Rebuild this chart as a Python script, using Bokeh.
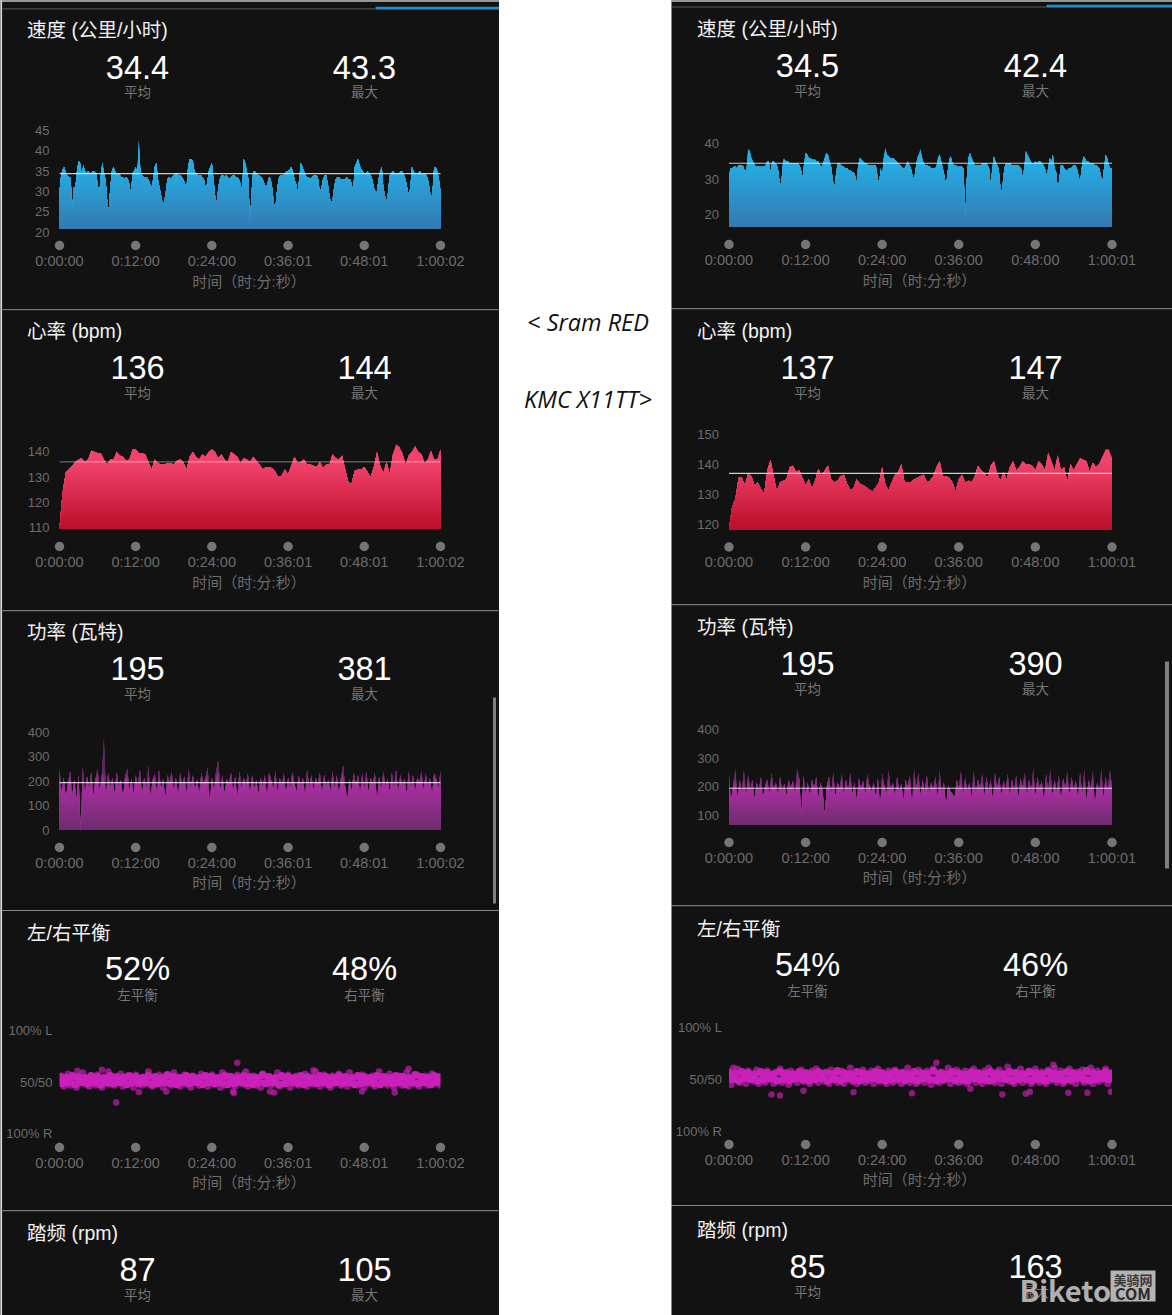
from bokeh.plotting import figure
from bokeh.layouts import row, column
from bokeh.models import Label, LinearAxis, FixedTicker, Range1d
from bokeh.embed import file_html
from bokeh.resources import INLINE
import numpy as np

# ---------- data ----------
speed_l = [30,34,35.5,36,34.5,34,33.5,33.5,25.5,31,31,35,37.5,37,34,36.5,35,34.5,35,34.5,
 34.5,35,35,34.5,32,29,34,37,34.5,33,28,25,31,35,36,35,34,34.5,34,33.5,
 33.5,33,33.5,33,32,29,34.5,35,36,34.5,43,35,34,33.5,33.5,33.5,33,32,31,33,
 36,37,33,31,29,27,27.5,30,33,33.5,33,33.5,34,34.5,34.5,34,34,33.5,33,32,
 31,36,38,38,37.5,35,34.5,34,34,34,33.5,33,31,32,35,36,37,33,29,27,
 31,33,34,34,33.5,34,33.5,33,33.5,34,34,33.5,33.5,33,32,30,38,37,35,33,
 21.5,30,35,35,34.5,34,34,33.5,33,32,31,32,33.5,33,31,27,26,30,33,34,
 34,34,34.5,35,35,35.5,36,35,33,32,30,33,37,36,35,34,33.5,33.5,33,33.5,
 34,34,34,33,29.5,31,33,34,34,32,29,27,28,31,33,33.5,33.5,33,33,33,
 33,33.5,33,33,32,30,36,37,38,36.5,35.5,35,34.5,34.5,35,34.5,34,33,31,30,
 30,33,35,36,31,29,27.5,30,34,34.5,35,34.5,34.5,34.5,34.5,35,35,34,33,31,
 29,31,36,35,34.5,34,34.5,35,34.5,34,34.5,34,33,31,28,30,36,36,35,33,30]
speed_r = [31,33,33,33.5,33.5,33,34,34,34,33.5,32,33,38.5,38,36,35,34,33.5,33.5,33.5,
 33.5,33.5,33.5,34,35,35,32,35,35,34.5,34,32,27.5,30,35.5,35.5,35,35,34.5,34.5,
 34.5,34.5,34.5,34.5,34,33,30,34,37.5,37,36,36,35.5,35.5,35.5,35,35,34,33.5,34.5,
 36,37.5,37,35,33.5,30,27,31,34.5,34.5,34,33.5,33.5,33,33,32.5,32.5,32,32,31,
 29,34,36,35.5,35,34.5,34.5,34,34,34,34,34,34,31,28,33,31,36,39,37,
 36.5,36,36,36,35.5,35,34.5,34,33.5,33,33,34,35,34,33,31,30,33,36,37,
 38.5,36,34.5,34,34,33.5,33.5,33,33,33,33.5,36,37,35,33,31,28,32,35.5,36.5,
 34.5,34,34,33.5,33.5,33.5,33.5,33,17.5,30,36,37.5,36,35,34,34,34,34,34,34.5,
 34.5,34.5,34,33,28,33,36.5,35,34,33,28,26,31,34,34.5,34.5,34.5,34,34,34,
 34,34,33.5,33,30.5,33,38,37,36,35,34.5,34.5,35,34.5,35,35,34.5,34,33,31,
 33,36,35,37,33,32,27,30,34,34,33,32.5,32.5,33,33,33.5,34,34,33,31,
 29,33,36.5,36,35,35,34.5,34.5,34.5,34,34,33.5,33,31,29,33,37,36,34,33,33]
hr_l = [110,124,132,133,134.5,136,137,137.5,136,137,140.5,140,139.5,139.5,137,135,137,137,140,138.5,
 138,136.5,137,141,141,139.5,139.5,139,136,133,137,135.5,135,135,135.5,135.5,135,136.5,137,136,
 133,138,140,138,137,139,138,140,141,140,137.5,139,137,136,140,139,138,135.5,137.5,137,
 136,138,136.5,135,133,134,134,133.5,132,130,130.5,133,131,134.5,138,135.5,136,137,135,135,
 134.5,134,136,133.5,135,135,139,137.5,137,138.5,133,128,127.5,132.5,133,133,134,132,130,134,
 140,134.5,131.5,136,131,139,143,142,139.5,135,138.5,140,142.5,140,139,135.5,137,140.5,137,137,141]
hr_r = [118.5,126,128.5,135.5,135.5,133,137,136,133,134,132,130,138,141.5,136,131,134,134.5,135,139,
 139.5,137.5,138,135.5,133,135,132,134.5,138.5,136,138,139.5,135,134,134.5,136,136.5,133.5,131.5,132,
 135,133.5,133,132.5,131.5,131,132.5,134,139,133,131.5,134,136.5,137.5,140,134,134,134,135,135.5,
 136,136.5,134,134.5,136,139,141,136,136,135.5,134,131,135,136.5,134,134.5,134,136,139.5,138,
 137,135.5,139.5,141,137,134.5,137.5,135,139,141,138,139,141,140,140,139.5,138,141,140,138,
 144,141,138,143,138,139,134,140,138,140,142,141.5,141,137.5,140.5,139,140,142.5,145,145,142]
power_l = [250,150,215,130,190,240,140,205,120,225,0,255,150,220,170,240,135,210,250,160,
 225,381,150,235,175,215,145,240,180,205,130,220,250,165,210,140,225,185,245,150,
 215,170,262,135,205,230,155,245,170,210,125,225,195,240,160,215,140,235,185,220,
 150,250,175,225,165,210,145,235,190,215,255,110,215,160,240,285,165,225,145,210,
 190,235,160,220,130,240,175,215,185,230,150,225,170,205,145,215,180,225,135,235,
 205,165,240,155,215,185,230,150,215,170,240,190,155,225,180,215,140,245,175,225,
 165,215,190,235,150,225,180,205,155,240,170,225,145,215,265,175,120,210,160,235,
 185,225,150,230,170,240,155,215,190,235,115,220,165,240,180,210,155,235,175,245,
 160,225,185,210,150,240,175,225,155,215,195,240,165,230,180,215,145,235,210,170,240]
power_r = [240,150,210,265,160,225,180,260,170,240,190,225,155,215,185,235,160,205,225,175,
 250,190,215,170,235,185,210,165,225,195,220,175,265,230,100,240,175,215,165,225,
 195,235,160,215,185,90,205,235,175,250,165,215,195,245,170,225,185,250,175,215,
 150,230,195,220,170,245,205,185,215,160,230,130,245,205,175,260,190,215,165,235,
 185,210,150,225,200,240,135,265,195,250,170,225,185,240,175,215,190,235,165,255,
 180,215,125,205,185,175,160,225,195,255,170,230,185,215,160,255,180,225,195,245,
 165,235,185,225,150,250,195,235,170,220,190,245,165,225,185,240,160,230,200,250,
 170,225,185,270,165,235,195,220,145,245,190,260,170,225,185,240,150,230,195,255,
 170,235,190,220,160,250,175,265,150,225,195,255,130,215,185,265,160,235,190,260,205]
balance_l = [49,56,46,53,58,47,52,55,45,54,50,59,48,53,46,56,51,47,57,52,
 45,54,49,60,48,55,47,53,50,58,46,52,56,48,54,45,57,50,53,47,
 55,49,60,52,46,54,48,57,51,45,56,49,53,47,59,50,55,46,52,57,
 48,54,45,56,50,53,47,58,49,55,46,52,57,48,54,50,45,59,47,53,
 56,49,52,46,57,51,54,48,60,46,53,50,56,47,54,45,58,49,52,55,
 47,53,50,59,46,55,48,52,57,45,54,49,56,47,53,51,58,46,52,55,
 48,60,50,46,54,57,48,52,45,56,49,53,58,47,54,50,46,59,52,48,
 55,47,53,57,45,51,54,49,56,46,53,60,48,52,55,47,58,50,45,54,
 49,56,47,53,59,46,52,55,48,57,46,54,50,56,47,53,58,49,52,55,47]
balance_r = [57,45,61,50,60,47,55,52,46,58,50,54,48,59,46,56,52,47,58,50,
 54,46,57,49,60,47,55,52,45,58,50,55,47,54,59,48,52,56,46,58,
 50,60,47,55,52,48,57,46,59,50,55,47,53,58,46,56,50,61,48,54,
 46,57,51,59,47,55,49,58,46,53,60,48,55,50,46,58,52,47,59,49,
 55,46,57,50,61,47,54,52,46,59,49,56,47,58,51,45,60,50,55,47,
 57,49,53,61,46,56,50,59,47,54,48,58,46,55,52,60,47,56,49,46,
 58,51,61,48,55,47,53,59,46,56,50,62,48,54,46,57,52,60,47,55,
 49,58,46,54,60,50,47,57,52,46,59,49,55,61,47,53,58,46,56,50,
 60,48,54,46,57,51,59,47,55,49,61,46,53,58,48,56,50,60,46,54,52]
core_l = [55,49,54,50,56,48,55,50,54,49,56,50,55,48,54,50,56,49,55,50,
 54,48,56,50,55,49,54,50,56,48,55,49,54,50,57,49,55,48,54,50,
 56,49,55,50,54,48,56,50,55,49,54,50,56,48,55,49,54,50,56,49,
 55,48,54,50,57,49,55,50,54,48,56,49,55,50,54,49,56,48,55,50,
 54,49,56,50,55,48,54,50,56,49,55,50,54,48,56,49,55,50,54,49,
 56,48,55,50,54,49,56,50,55,48,54,50,57,49,55,50,54,48,56,50,55]
core_r = [56,50,55,49,57,51,56,50,55,49,57,50,56,51,55,49,57,50,56,49,
 55,51,57,50,56,49,55,50,57,51,56,49,55,50,58,49,56,51,55,50,
 57,49,56,50,55,51,57,50,56,49,55,50,57,51,56,49,55,50,57,49,
 56,51,55,50,58,49,56,50,55,51,57,49,56,50,55,49,57,51,56,50,
 55,49,57,50,56,51,55,50,57,49,56,50,55,51,57,49,56,50,55,49,
 57,51,56,50,55,49,57,50,56,51,55,50,58,49,56,50,55,51,57,50,56]
out_l_t = [536, 1680, 1640, 2400, 3300, 170, 750, 1010, 1650, 2030, 2860, 3170, 400, 1990]
out_l_v = [30.3, 68.7, 41, 61.5, 63, 61, 40.5, 41, 39.5, 40, 41, 40, 62, 41]
out_r_t = [400, 480, 700, 1720, 2270, 2570, 2790, 2830, 3190, 3370, 1170, 1950, 3050, 3590]
out_r_v = [35.5, 34.5, 39, 36.5, 41, 35.5, 36, 38, 37, 37, 37.5, 66, 64, 38]

title_names = ["速度 (公里/小时)", "心率 (bpm)", "功率 (瓦特)", "左/右平衡", "踏频 (rpm)"]
stats_l = [("34.4", "43.3"), ("136", "144"), ("195", "381"), ("52%", "48%"), ("87", "105")]
stats_r = [("34.5", "42.4"), ("137", "147"), ("195", "390"), ("54%", "46%"), ("85", "163")]
sub_labels = [("平均", "最大"), ("平均", "最大"), ("平均", "最大"), ("左平衡", "右平衡"), ("平均", "最大")]
ticks_l = ["0:00:00", "0:12:00", "0:24:00", "0:36:01", "0:48:01", "1:00:02"]
ticks_r = ["0:00:00", "0:12:00", "0:24:00", "0:36:00", "0:48:00", "1:00:01"]
axis_title = "时间（时:分:秒）"

BG = "#121213"
FONT = "Liberation Sans, Noto Sans CJK SC"
GRAY = "#6c6c6c"
BLUE = ("#25ADE3", "#3578B1")
RED = ("#F2436C", "#B90E29")
PURPLE = ("#A92FA2", "#6E2C6C")


def mix(top, bot, f):
    a = [int(top[i:i + 2], 16) for i in (1, 3, 5)]
    b = [int(bot[i:i + 2], 16) for i in (1, 3, 5)]
    return "#%02x%02x%02x" % tuple(int(round(b[i] + (a[i] - b[i]) * f)) for i in range(3))


def panel(col, top, H, T, ticks, tick_labels, anchors, base, names, vals, subs, ypos, sep=True):
    """col: (page x of panel, width, chart x0, chart x1). anchors: (v0,py0,v1,py1)."""
    ox, W, cx0, cx1 = col
    v0, p0, v1, p1 = anchors
    k = (v1 - v0) / (p0 - p1)
    Y = lambda py: v0 + (p0 - py) * k
    s = T / (cx1 - cx0)
    X = lambda px: (px - cx0) * s
    p = figure(width=W, height=H, output_backend="svg", toolbar_location=None,
               x_range=Range1d(X(ox), X(ox + W)), y_range=Range1d(Y(top + H), Y(top)),
               x_axis_type=None, y_axis_type=None, min_border=0,
               background_fill_color=BG, border_fill_color=BG, outline_line_color=None)
    p.grid.visible = False
    p.margin = 0

    def txt(px, py, t, size, color, align="center", style="normal"):
        p.add_layout(Label(x=X(px), y=Y(py), text=t, text_font=FONT, text_font_size=f"{size}px",
                           text_color=color, text_align=align, text_baseline="middle",
                           text_font_style=style))

    ty, by, sy, dy, ly, ay = ypos
    txt(ox + 26.5 if ox == 0 else ox + 25.5, ty - 0.5, names, 19.5, "#f1f1f1", "left")
    for cx, big, small in zip(col_stats(ox), vals, subs):
        txt(cx, by - 1, big, 32.5, "#ffffff")
        txt(cx, sy, small, 13.5, "#777777")
    if sep:
        p.line([X(ox), X(ox + W)], [Y(top + 0.5)] * 2, line_color="#3c3c3c", line_width=1)
    if ticks is not None:
        xa = LinearAxis(ticker=FixedTicker(ticks=ticks), fixed_location=Y(dy),
                        major_label_overrides={t: l for t, l in zip(ticks, tick_labels)},
                        axis_line_color=None, major_tick_line_color=None, minor_tick_line_color=None,
                        major_label_standoff=1, major_label_text_color=GRAY,
                        major_label_text_font=FONT, major_label_text_font_size="14.5px")
        p.add_layout(xa, "below")
        p.scatter(ticks, [Y(dy)] * len(ticks), size=9.5, fill_color="#757575", line_color=None)
        txt((cx0 + cx1) / 2 - 1, ay, axis_title, 15, GRAY)
    p._X, p._Y = X, Y
    return p


def col_stats(ox):
    return (137, 364) if ox == 0 else (807, 1035)


def area(p, T, vals, base, mean, colors, top_level, mean_alpha=0.85, fade=None, fade_span=60):
    vals = np.array(vals, dtype=float)
    x = np.linspace(0, T, len(vals))
    hi_all = vals.max()
    N = 36
    levels = np.linspace(hi_all, base, N, endpoint=False)
    for lev in levels:
        f = min(1.0, (lev - base) / (top_level - base))
        colr = mix(colors[0], colors[1], f)
        if fade and lev > top_level:
            colr = mix(fade, colors[0], min(1.0, (lev - top_level) / fade_span))
        p.varea(x, np.full(len(x), base), np.minimum(vals, lev), fill_color=colr)
    p.line([0, T], [mean, mean], line_color="#f0f0f0", line_width=1.2, line_alpha=mean_alpha)


def yaxis(p, ticks, overrides=None, standoff=4):
    ya = LinearAxis(ticker=FixedTicker(ticks=ticks), fixed_location=0,
                    axis_line_color=None, major_tick_line_color=None, minor_tick_line_color=None,
                    major_label_standoff=standoff, major_label_text_color=GRAY,
                    major_label_text_font=FONT, major_label_text_font_size="13px",
                    major_label_text_align="right", major_label_text_baseline="middle")
    if overrides:
        ya.major_label_overrides = overrides
    p.add_layout(ya, "left")


def balance(p, T, vals, core, ot, ov):
    p.scatter(ot, ov, size=6.5, fill_color="#C91FB9", fill_alpha=0.65, line_color=None)
    p.scatter(np.linspace(0, T, len(vals)), vals, size=7, fill_color="#C91FB9", fill_alpha=0.68, line_color=None)
    p.scatter(np.linspace(0, T, len(core)), core, size=8, fill_color="#CC21BC", fill_alpha=0.95, line_color=None)
    # the chart's ends are cut straight
    w = T * 8 / 381
    p.quad(left=[-w, T], right=[0, T + w], bottom=[20, 20], top=[80, 80], fill_color=BG, line_color=None)


LC = (0, 499, 59, 440)
RC = (671, 501, 728.5, 1111.5)
TL = 3602
TR = 3601
tl = [0, 720, 1440, 2161, 2881, 3602]
tr = [0, 720, 1440, 2160, 2880, 3601]
bal_over = {0: "100% R", 50: "50/50", 100: "100% L"}

# left column
l1 = panel(LC, 0, 309, TL, tl, ticks_l, (45, 130, 20, 231.7), 20.9, title_names[0], stats_l[0], sub_labels[0], (30, 68, 92, 245, 261, 281))
area(l1, TL, speed_l, 20.9, 34.4, BLUE, 36)
yaxis(l1, [20, 25, 30, 35, 40, 45])
l2 = panel(LC, 309, 301, TL, tl, ticks_l, (140, 451.3, 110, 527.3), 109.6, title_names[1], stats_l[1], sub_labels[1], (331, 368, 393, 546, 562, 581.5))
area(l2, TL, hr_l, 109.6, 136, RED, 136, 0.4)
yaxis(l2, [110, 120, 130, 140])
l3 = panel(LC, 610, 300, TL, tl, ticks_l, (400, 731.7, 0, 830), 4, title_names[2], stats_l[2], sub_labels[2], (632, 669, 694, 847, 863, 882))
area(l3, TL, power_l, 4, 195, PURPLE, 195, fade="#5E2A5C")
yaxis(l3, [0, 100, 200, 300, 400])
l4 = panel(LC, 910, 300, TL, tl, ticks_l, (100, 1030, 0, 1133.3), 0, title_names[3], stats_l[3], sub_labels[3], (933, 969, 995, 1147, 1163, 1182), sep=False)
balance(l4, TL, balance_l, core_l, out_l_t, out_l_v)
yaxis(l4, [0, 50, 100], bal_over, 1)
l5 = panel(LC, 1210, 105, TL, None, None, (100, 1210, 0, 1315), 0, title_names[4], stats_l[4], sub_labels[4], (1233, 1270, 1295, 0, 0, 0))

for p_, top_, H_ in ((l1, 0, 309), (l2, 309, 301), (l3, 610, 300), (l4, 910, 300), (l5, 1210, 105)):
    X_, Y_ = p_._X, p_._Y
    p_.quad(left=X_(0), right=X_(1.6), bottom=Y_(top_ + H_), top=Y_(top_), fill_color="#d8d8d8", line_color=None)
l1.quad(left=l1._X(0), right=l1._X(499), bottom=l1._Y(1), top=l1._Y(0), fill_color="#ffffff", line_color=None)
l1.line([l1._X(2), l1._X(375)], [l1._Y(8.4)] * 2, line_color="#5a5a5a", line_width=1)
l1.quad(left=l1._X(375), right=l1._X(499), bottom=l1._Y(9), top=l1._Y(6.3), fill_color="#1C8FCF", line_color=None)
l3.quad(left=l3._X(492.5), right=l3._X(495.5), bottom=l3._Y(903), top=l3._Y(697), fill_color="#808080", line_color=None)

# right column
r1 = panel(RC, 0, 308, TR, tr, ticks_r, (40, 143.3, 20, 214), 16.5, title_names[0], stats_r[0], sub_labels[0], (28.5, 65.5, 90.5, 244, 260.5, 280))
area(r1, TR, speed_r, 16.5, 34.5, BLUE, 35)
yaxis(r1, [20, 30, 40])
r2 = panel(RC, 308, 296, TR, tr, ticks_r, (150, 433.7, 120, 524), 118.4, title_names[1], stats_r[1], sub_labels[1], (331, 367.5, 393, 546.5, 563, 582))
area(r2, TR, hr_r, 118.4, 137, RED, 141)
yaxis(r2, [120, 130, 140, 150])
r3 = panel(RC, 604, 301, TR, tr, ticks_r, (400, 729, 100, 815), 67, title_names[2], stats_r[2], sub_labels[2], (627, 663.5, 689, 842, 858.5, 877))
area(r3, TR, power_r, 67, 195, PURPLE, 195, fade="#5E2A5C")
yaxis(r3, [100, 200, 300, 400])
r4 = panel(RC, 905, 300, TR, tr, ticks_r, (100, 1027, 0, 1130.7), 0, title_names[3], stats_r[3], sub_labels[3], (928.5, 965, 991, 1144, 1160, 1179))
balance(r4, TR, balance_r, core_r, out_r_t, out_r_v)
yaxis(r4, [0, 50, 100], bal_over, 1)
r5 = panel(RC, 1205, 110, TR, None, None, (100, 1205, 0, 1315), 0, title_names[4], stats_r[4], sub_labels[4], (1230, 1267, 1292, 0, 0, 0), sep=False)
r1.quad(left=r1._X(671), right=r1._X(1172), bottom=r1._Y(1), top=r1._Y(0), fill_color="#ffffff", line_color=None)
r1.line([r1._X(671), r1._X(1046)], [r1._Y(6.5)] * 2, line_color="#5a5a5a", line_width=1)
r1.quad(left=r1._X(1046), right=r1._X(1172), bottom=r1._Y(7), top=r1._Y(4.3), fill_color="#1C8FCF", line_color=None)
r3.quad(left=r3._X(1164.5), right=r3._X(1168.5), bottom=r3._Y(868), top=r3._Y(661), fill_color="#808080", line_color=None)

# watermark
X5, Y5 = r5._X, r5._Y
r5.quad(left=X5(1110), right=X5(1155), bottom=Y5(1301), top=Y5(1270), fill_color="#b4b4b4", line_color=None)
for t, px, py, size, col_, fs, al in (("Biketo.", 1019, 1288, 29, "#b0b0b0", "bold", "left"),
                                     ("美骑网", 1132.5, 1279, 13, "#3a3a3a", "bold", "center"),
                                     ("COM", 1132.5, 1292, 16, "#2a2a2a", "bold", "center")):
    r5.add_layout(Label(x=X5(px), y=Y5(py), text=t, text_font="Liberation Sans Narrow, Noto Sans CJK SC",
                        text_font_size=f"{size}px", text_color=col_, text_font_style=fs,
                        text_align=al, text_baseline="middle"))

# centre captions
c = figure(width=172, height=1315, output_backend="svg", toolbar_location=None,
           x_range=Range1d(499, 671), y_range=Range1d(1315, 0), x_axis_type=None, y_axis_type=None,
           min_border=0, background_fill_color="#ffffff", border_fill_color="#ffffff", outline_line_color=None)
c.grid.visible = False
c.margin = 0
for t, py in (("< Sram RED", 321), ("KMC X11TT>", 398)):
    c.add_layout(Label(x=587.5, y=py, text=t, text_font="Open Sans", text_font_size="23.5px",
                       text_font_style="italic", text_color="#111111", text_align="center", text_baseline="middle"))

left = column(l1, l2, l3, l4, l5, spacing=0, margin=0)
right = column(r1, r2, r3, r4, r5, spacing=0, margin=0)
page = row(left, c, right, spacing=0, margin=0)
open("out.html", "w").write(file_html(page, INLINE))
